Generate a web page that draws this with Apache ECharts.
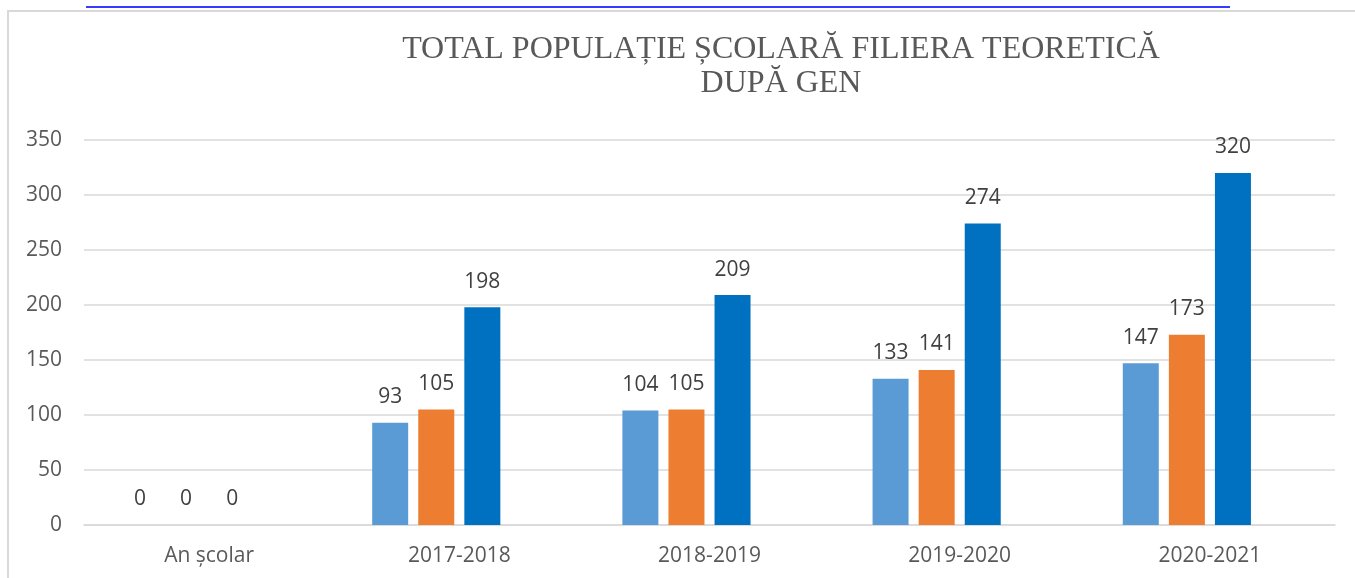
<!DOCTYPE html>
<html lang="ro">
<head>
<meta charset="UTF-8">
<title>Total populație școlară</title>
<script src="https://cdn.jsdelivr.net/npm/echarts@6/dist/echarts.min.js"></script>
<style>
body{margin:0;padding:0;background:#fff;}
#main{width:1355px;height:578px;position:absolute;left:0;top:0;}
#frame{position:absolute;left:7px;top:10px;width:1348px;height:568px;border-left:2px solid #d9d9d9;border-top:2px solid #d9d9d9;}
#link{position:absolute;left:86px;top:6px;width:1144px;height:2px;background:#3a3aff;}
</style>
</head>
<body>
<div id="link"></div>
<div id="frame"></div>
<div id="main"></div>
<script type="text/javascript">
var categories = ['An școlar', '2017-2018', '2018-2019', '2019-2020', '2020-2021'];
var seriesA = [0, 93, 104, 133, 147];
var seriesB = [0, 105, 105, 141, 173];
var seriesTotal = [0, 198, 209, 274, 320];
var seriesEmpty = ['-', '-', '-', '-', '-'];
var yTicks = {min: 0, max: 350, interval: 50};

var myChart = echarts.init(document.getElementById('main'));
var label = {show: true, position: 'top', distance: 15, color: '#404040', fontSize: 21, fontFamily: 'Open Sans'};
var option = {
    backgroundColor: 'transparent',
    animation: false,
    title: {
        text: 'TOTAL POPULAȚIE ȘCOLARĂ FILIERA TEORETICĂ\nDUPĂ GEN',
        left: 776,
        textAlign: 'center',
        top: 28,
        textStyle: {fontFamily: 'Liberation Serif', fontWeight: 'normal', fontSize: 32, color: '#595959', lineHeight: 34}
    },
    grid: {left: 84, right: 20, top: 140, bottom: 53, containLabel: false},
    xAxis: {
        type: 'category',
        data: categories,
        axisTick: {show: false},
        axisLine: {lineStyle: {color: '#d9d9d9', width: 1.5}},
        axisLabel: {color: '#595959', fontSize: 21, fontFamily: 'Open Sans', margin: 21}
    },
    yAxis: {
        type: 'value',
        min: yTicks.min,
        max: yTicks.max,
        interval: yTicks.interval,
        axisLine: {show: false},
        axisTick: {show: false},
        splitLine: {lineStyle: {color: '#d9d9d9', width: 1.5}},
        axisLabel: {color: '#595959', fontSize: 21, fontFamily: 'Open Sans', margin: 22}
    },
    series: [
        {name: 'A', type: 'bar', data: seriesA, barWidth: 36, barGap: '28%', itemStyle: {color: '#5b9bd5'}, label: label},
        {name: 'B', type: 'bar', data: seriesB, barWidth: 36, barGap: '28%', itemStyle: {color: '#ed7d31'}, label: label},
        {name: 'Total', type: 'bar', data: seriesTotal, barWidth: 36, barGap: '28%', itemStyle: {color: '#0070c0'}, label: label},
        {name: 'Empty', type: 'bar', data: seriesEmpty, barWidth: 36, barGap: '28%', itemStyle: {color: '#a5a5a5'}}
    ]
};
myChart.setOption(option);
</script>
</body>
</html>
